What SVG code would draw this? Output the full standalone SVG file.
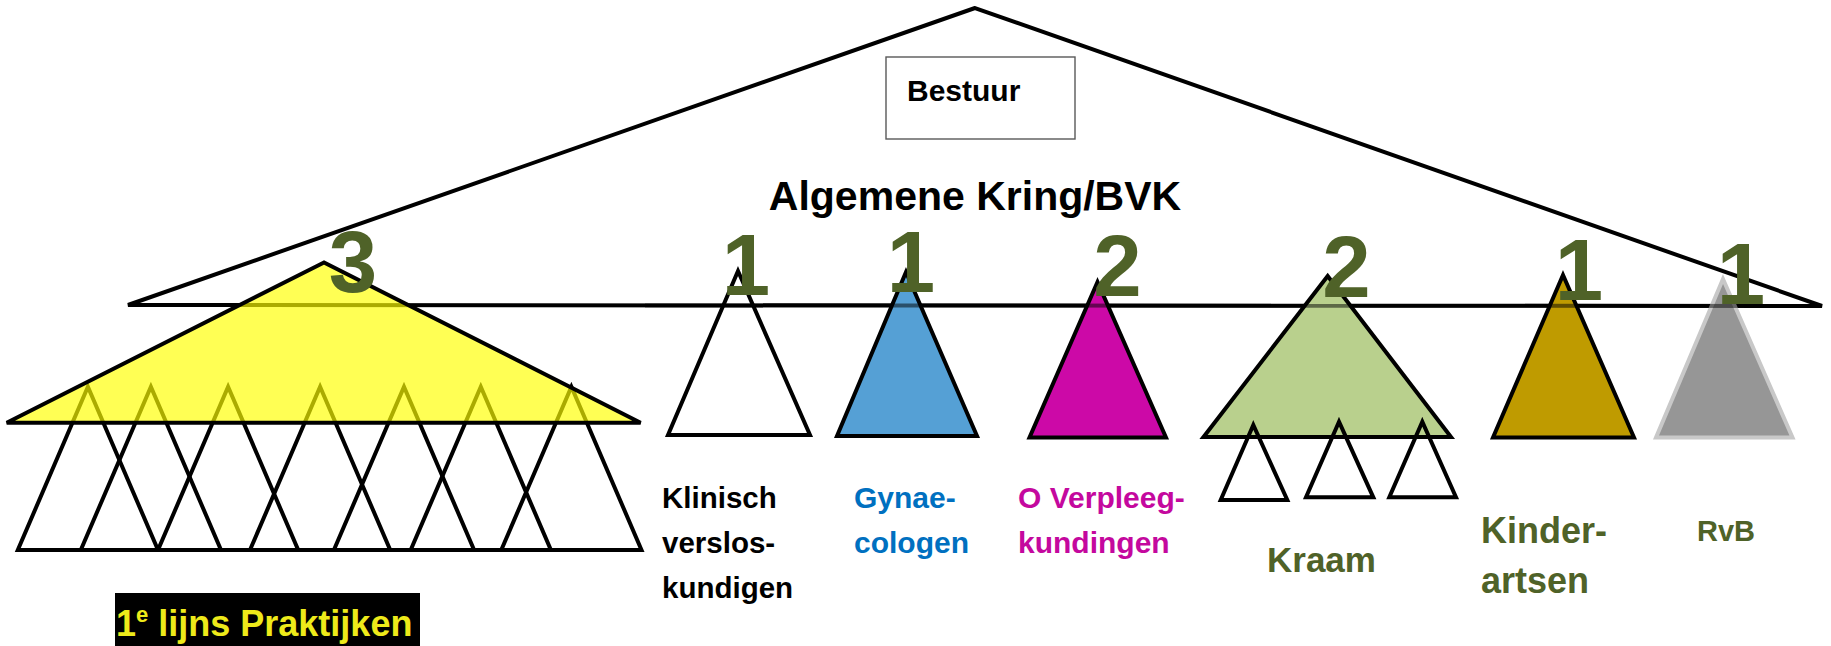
<svg xmlns="http://www.w3.org/2000/svg" width="1831" height="646" viewBox="0 0 1831 646">
<style>
.t{font-family:"Liberation Sans",Arial,sans-serif;font-weight:bold}
.ln{fill:none;stroke:#000;stroke-width:4;stroke-linejoin:miter}
.num{font-family:"Liberation Sans",Arial,sans-serif;font-weight:bold;font-size:87px;fill:#4F6228;text-anchor:middle}
.olive{fill:#4F6228}
</style>
<rect width="1831" height="646" fill="#fff"/>
<g id="algemene-kring">
<polygon class="ln" points="975,8 128,305 1822,306"/>
<text class="t" x="975" y="210" font-size="41" text-anchor="middle" fill="#000">Algemene Kring/BVK</text>
</g>
<g id="bestuur">
<rect x="886" y="57" width="189" height="82" fill="#fff" stroke="#595959" stroke-width="1.4"/>
<text class="t" x="907" y="101" font-size="30" fill="#000">Bestuur</text>
</g>
<g id="praktijken">
<g class="ln">
<polygon points="87.9,386.7 17.8,550 158,550"/>
<polygon points="150.9,386.7 80.8,550 221,550"/>
<polygon points="228.1,386.7 158,550 298.2,550"/>
<polygon points="320.1,386.7 250,550 390.2,550"/>
<polygon points="404,386.7 333.9,550 474.1,550"/>
<polygon points="480.8,386.7 410.7,550 550.9,550"/>
<polygon points="571.4,386.7 501.3,550 641.5,550"/>
</g>
<polygon points="324,262.5 6.7,422.7 640.6,422.7" fill="#FFFF00" fill-opacity="0.67" stroke="#000" stroke-width="4"/>
<rect x="115" y="593" width="305" height="53" fill="#000"/>
<text class="t" x="116" y="636" font-size="36" fill="#EEEA1A">1<tspan font-size="22" dy="-14">e</tspan><tspan dy="14"> lijns Praktijken</tspan></text>
</g>
<g id="klinisch">
<polygon class="ln" points="738,271 668,435 810,435"/>
</g>
<g id="gynae">
<polygon points="906,272 837,436 977,436" fill="#55A0D5" stroke="#000" stroke-width="4"/>
</g>
<g id="verpleeg">
<polygon points="1097.5,282 1029.5,437.5 1166,437.5" fill="#CC09A7" stroke="#000" stroke-width="4"/>
</g>
<g id="kraam">
<polygon points="1327.7,276 1203.5,437 1451,437" fill="#B9D08D" stroke="#000" stroke-width="4"/>
</g>
<g id="kinder">
<polygon points="1563,275 1493,437.5 1634,437.5" fill="#BF9B00" stroke="#000" stroke-width="4"/>
</g>
<g id="rvb">
<polygon points="1723,279 1656,437.5 1792.5,437.5" fill="#969696" stroke="#C8C8C8" stroke-width="4"/>
</g>
<g id="connectors">
<line x1="645" y1="305.4" x2="1818" y2="305.9" stroke="#000" stroke-width="4" stroke-opacity="0.5"/>
</g>
<g id="kraam-sub" class="ln">
<polygon points="1253.3,425 1220.7,500 1287.3,500"/>
<polygon points="1339,421.7 1306,497.3 1373.3,497.3"/>
<polygon points="1422.3,421.7 1389.3,497.3 1456,497.3"/>
</g>
<g id="numbers">
<text class="num" x="353" y="292">3</text>
<text class="num" x="746" y="295">1</text>
<text class="num" x="911" y="291.5">1</text>
<text class="num" x="1117.5" y="296">2</text>
<text class="num" x="1346.5" y="297">2</text>
<text class="num" x="1579" y="299.5">1</text>
<text class="num" x="1741" y="304">1</text>
</g>
<g id="labels">
<text class="t" font-size="29.5" fill="#000"><tspan x="662" y="508">Klinisch</tspan><tspan x="662" y="553">verslos-</tspan><tspan x="662" y="598">kundigen</tspan></text>
<text class="t" font-size="30" fill="#0070C0"><tspan x="854" y="508">Gynae-</tspan><tspan x="854" y="553">cologen</tspan></text>
<text class="t" font-size="30" fill="#C4089E"><tspan x="1018" y="508">O Verpleeg-</tspan><tspan x="1018" y="553">kundingen</tspan></text>
<text class="t olive" x="1267" y="572" font-size="35">Kraam</text>
<text class="t olive" font-size="36"><tspan x="1481" y="543">Kinder-</tspan><tspan x="1481" y="593">artsen</tspan></text>
<text class="t olive" x="1697" y="541" font-size="29">RvB</text>
</g>
</svg>
